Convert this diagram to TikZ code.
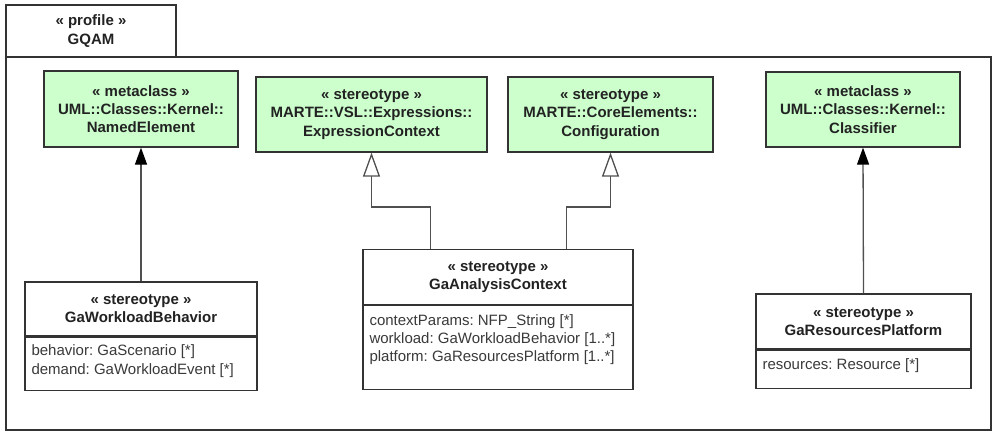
\documentclass[tikz,border=0pt]{standalone}
\usepackage{fontspec}
\setmainfont{Liberation Sans}
\frenchspacing
\usetikzlibrary{arrows.meta}
\definecolor{mgreen}{HTML}{CCFFCC}
\definecolor{bline}{HTML}{333333}
\definecolor{cline}{HTML}{505050}
\definecolor{atxt}{HTML}{3A3A3A}
\definecolor{htxt}{HTML}{222222}
\tikzset{
 fnt/.style={font=\fontsize{15}{18.3}\selectfont},
 box/.style={draw=bline, line width=1.3pt, inner sep=0pt, align=center, text=htxt, font=\fontsize{15}{18.3}\selectfont\bfseries},
 greenbox/.style={box, fill=mgreen},
 hdr/.style={box, fill=white},
 comp/.style={draw=bline, line width=1.3pt, fill=white, inner sep=0pt},
 attr/.style={fnt, align=left, inner sep=0pt, anchor=north west, text=atxt},
 conn/.style={draw=cline, line width=1.3pt},
 ext/.style={conn, -{Triangle[length=17pt,width=12pt,fill=black,color=black]}},
 gen/.style={conn, -{Triangle[open,length=24pt,width=17pt,fill=white]}},
}
\begin{document}
\begin{tikzpicture}[x=1pt,y=-1pt]
\useasboundingbox (0,0) rectangle (993,434);
% frame and tab
\node[draw=bline, line width=1.8pt, minimum width=985pt, minimum height=373pt, inner sep=0pt] (frame) at (498.5,243.5) {};
\node[box, line width=1.6pt, fill=white, minimum width=170pt, minimum height=52pt] (tab) at (91,31) {« profile »\\GQAM};
% metaclasses / stereotypes
\node[greenbox, minimum width=194pt, minimum height=76pt] (ne) at (141,109) {« metaclass »\\UML::Classes::Kernel::\\NamedElement};
\node[greenbox, minimum width=231pt, minimum height=75pt] (ec) at (371.5,114.5) {« stereotype »\\MARTE::VSL::Expressions::\\ExpressionContext};
\node[greenbox, minimum width=205pt, minimum height=75pt] (cf) at (610.5,114.5) {« stereotype »\\MARTE::CoreElements::\\Configuration};
\node[greenbox, minimum width=194pt, minimum height=75pt] (cl) at (863,109.5) {« metaclass »\\UML::Classes::Kernel::\\Classifier};
% GaWorkloadBehavior
\node[hdr, minimum width=232pt, minimum height=54pt] (wbh) at (141,309) {« stereotype »\\GaWorkloadBehavior};
\node[comp, minimum width=232pt, minimum height=53pt, anchor=north] (wbc) at (wbh.south) {};
\node[attr] (wbt) at ([xshift=7pt,yshift=-8pt]wbc.north west) {behavior: GaScenario [*]\\demand: GaWorkloadEvent [*]};
% GaAnalysisContext
\node[hdr, minimum width=270pt, minimum height=55pt] (ach) at (498,277) {« stereotype »\\GaAnalysisContext};
\node[comp, minimum width=270pt, minimum height=83.5pt, anchor=north] (acc) at (ach.south) {};
\node[attr] (act) at ([xshift=7pt,yshift=-9pt]acc.north west) {contextParams: NFP\_String [*]\\workload: GaWorkloadBehavior [1..*]\\platform: GaResourcesPlatform [1..*]};
% GaResourcesPlatform
\node[hdr, minimum width=215pt, minimum height=55pt] (rph) at (863.5,321.5) {« stereotype »\\GaResourcesPlatform};
\node[comp, minimum width=215pt, minimum height=38pt, anchor=north] (rpc) at (rph.south) {};
\node[attr] (rpt) at ([xshift=7pt,yshift=-9pt]rpc.north west) {resources: Resource [*]};
% connectors
\draw[ext] (wbh.north) -- (ne.south);
\draw[ext] (rph.north) -- (cl.south);
\draw[gen] ([xshift=68pt]ach.north west) -- ++(0,-42) -| (ec.south);
\draw[gen] ([xshift=-67pt]ach.north east) -- ++(0,-42) -| (cf.south);
\end{tikzpicture}
\end{document}
